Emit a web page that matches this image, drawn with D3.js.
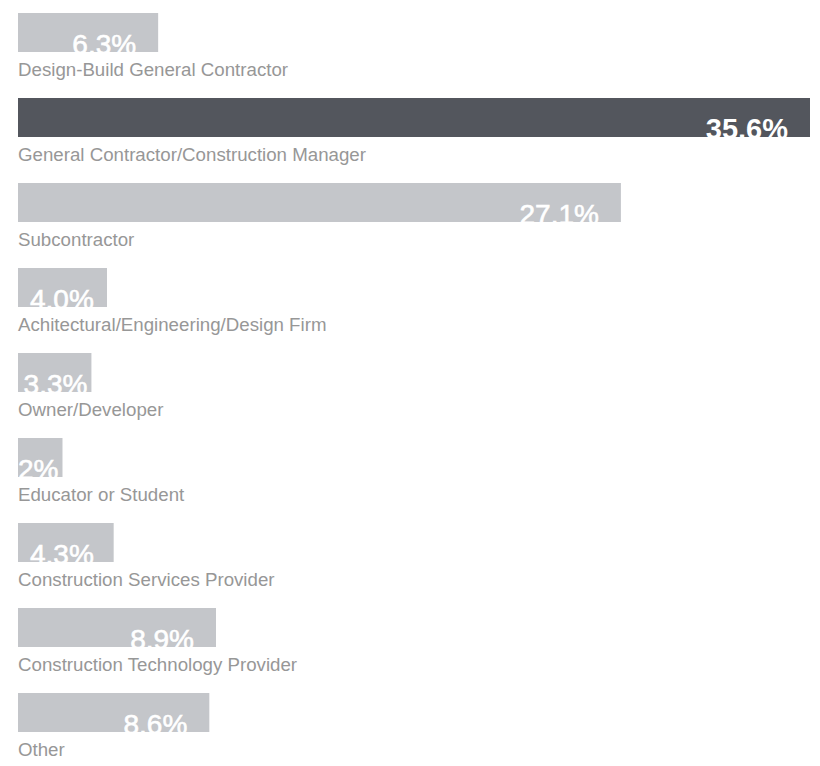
<!DOCTYPE html>
<html>
<head>
<meta charset="utf-8">
<script src="https://cdn.jsdelivr.net/npm/d3@7"></script>
<style>
  html, body { margin: 0; padding: 0; background: #ffffff; }
  svg { display: block; }
  text { font-family: "Helvetica Neue", Helvetica, Arial, "Liberation Sans", sans-serif; }
</style>
</head>
<body>
<svg id="chart" width="820" height="766"></svg>
<script>
const categories = [
  "Design-Build General Contractor",
  "General Contractor/Construction Manager",
  "Subcontractor",
  "Achitectural/Engineering/Design Firm",
  "Owner/Developer",
  "Educator or Student",
  "Construction Services Provider",
  "Construction Technology Provider",
  "Other"
];
const values = [6.3, 35.6, 27.1, 4.0, 3.3, 2, 4.3, 8.9, 8.6];
const valueLabels = ["6.3%", "35.6%", "27.1%", "4.0%", "3.3%", "2%", "4.3%", "8.9%", "8.6%"];
const highlighted = ["General Contractor/Construction Manager"];

const data = categories.map((c, i) => ({ cat: c, value: values[i], label: valueLabels[i], hi: highlighted.includes(c) }));

const svg = d3.select("#chart");
const left = 18;

const x = d3.scaleLinear().domain([0, d3.max(values)]).range([left, 810]);
const y = d3.scaleBand()
  .domain(categories)
  .range([13, 732])
  .paddingInner(46 / 85)
  .paddingOuter(0)
  .align(0);

const defs = svg.append("defs");
defs.selectAll("clipPath")
  .data(data)
  .join("clipPath")
  .attr("id", (d, i) => "clip" + i)
  .append("rect")
  .attr("x", x(0))
  .attr("y", d => y(d.cat))
  .attr("width", d => x(d.value) - x(0))
  .attr("height", y.bandwidth());

const g = svg.selectAll("g.row")
  .data(data)
  .join("g")
  .attr("class", "row");

g.append("rect")
  .attr("x", x(0))
  .attr("y", d => y(d.cat))
  .attr("width", d => x(d.value) - x(0))
  .attr("height", y.bandwidth())
  .attr("fill", d => d.hi ? "#53565d" : "#c4c6ca");

g.append("text")
  .attr("class", "cat")
  .attr("x", x(0))
  .attr("y", d => y(d.cat) + y.bandwidth() + 24)
  .attr("font-size", 18.7)
  .attr("fill", "#979797")
  .text(d => d.cat);

g.append("text")
  .attr("class", "val")
  .attr("clip-path", (d, i) => "url(#clip" + i + ")")
  .attr("y", d => y(d.cat) + y.bandwidth() + 2)
  .attr("font-size", d => d.hi ? 29 : 28)
  .attr("font-weight", d => d.hi ? "bold" : "normal")
  .attr("fill", "#ffffff")
  .attr("stroke", "#ffffff")
  .attr("stroke-width", d => d.hi ? 0 : 0.6)
  .text(d => d.label)
  .attr("x", function(d) {
    const w = this.getComputedTextLength();
    const end = x(d.value);
    let s = Math.max(x(0) + 12, end - 22 - w);
    s = Math.min(s, end - w - 4);
    return Math.max(s, x(0));
  });
</script>
</body>
</html>
